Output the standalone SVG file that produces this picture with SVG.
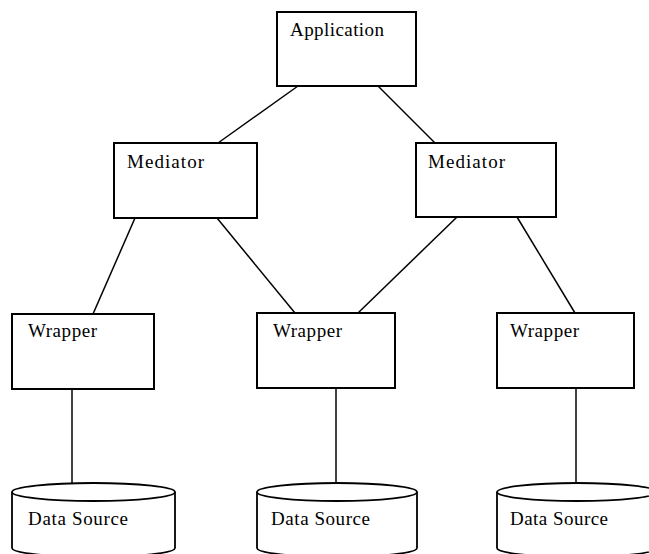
<svg xmlns="http://www.w3.org/2000/svg" width="649" height="554" viewBox="0 0 649 554">
<style>
.box{fill:#fff;stroke:#000;stroke-width:2}
.cyl{fill:#fff;stroke:#000;stroke-width:1.8}
.ln{stroke:#000;stroke-width:1.5;fill:none}
.t{font-family:"Liberation Serif","Times New Roman",serif;font-size:19px;fill:#000}
</style>
<rect width="649" height="554" fill="#fff"/>
<g id="connectors">
<line class="ln" x1="298" y1="86" x2="218" y2="143"/>
<line class="ln" x1="378" y1="86" x2="435" y2="143"/>
<line class="ln" x1="135" y1="218" x2="93" y2="314"/>
<line class="ln" x1="217" y1="218" x2="295" y2="313"/>
<line class="ln" x1="457" y1="217" x2="358" y2="313"/>
<line class="ln" x1="517" y1="217" x2="575" y2="313"/>
<line class="ln" x1="72" y1="389" x2="72" y2="483"/>
<line class="ln" x1="336" y1="388" x2="336" y2="483"/>
<line class="ln" x1="576" y1="388" x2="576" y2="483"/>
</g>
<g id="application">
<rect class="box" x="277" y="12" width="139" height="74"/>
<text class="t" x="290" y="36" textLength="94" lengthAdjust="spacing">Application</text>
</g>
<g id="mediator-left">
<rect class="box" x="114" y="143" width="143" height="75"/>
<text class="t" x="127" y="168" textLength="77" lengthAdjust="spacing">Mediator</text>
</g>
<g id="mediator-right">
<rect class="box" x="416" y="143" width="140" height="74"/>
<text class="t" x="428" y="168" textLength="77" lengthAdjust="spacing">Mediator</text>
</g>
<g id="wrapper-left">
<rect class="box" x="12" y="314" width="142" height="75"/>
<text class="t" x="28" y="337" textLength="69" lengthAdjust="spacing">Wrapper</text>
</g>
<g id="wrapper-mid">
<rect class="box" x="257" y="313" width="138" height="75"/>
<text class="t" x="273" y="337" textLength="69" lengthAdjust="spacing">Wrapper</text>
</g>
<g id="wrapper-right">
<rect class="box" x="497" y="313" width="137" height="75"/>
<text class="t" x="510" y="337" textLength="69" lengthAdjust="spacing">Wrapper</text>
</g>
<g id="datasource-left">
<path class="cyl" d="M12,492 L12,548 A81.5,9 0 0 0 175,548 L175,492"/>
<ellipse class="cyl" cx="93.5" cy="492" rx="81.5" ry="9"/>
<text class="t" x="28" y="525" textLength="100" lengthAdjust="spacing">Data Source</text>
</g>
<g id="datasource-mid">
<path class="cyl" d="M257,492 L257,548 A80,9 0 0 0 417,548 L417,492"/>
<ellipse class="cyl" cx="337" cy="492" rx="80" ry="9"/>
<text class="t" x="271" y="525" textLength="99" lengthAdjust="spacing">Data Source</text>
</g>
<g id="datasource-right">
<path class="cyl" d="M497,492 L497,548 A80,9 0 0 0 657,548 L657,492"/>
<ellipse class="cyl" cx="577" cy="492" rx="80" ry="9"/>
<text class="t" x="510" y="525" textLength="98" lengthAdjust="spacing">Data Source</text>
</g>
</svg>
